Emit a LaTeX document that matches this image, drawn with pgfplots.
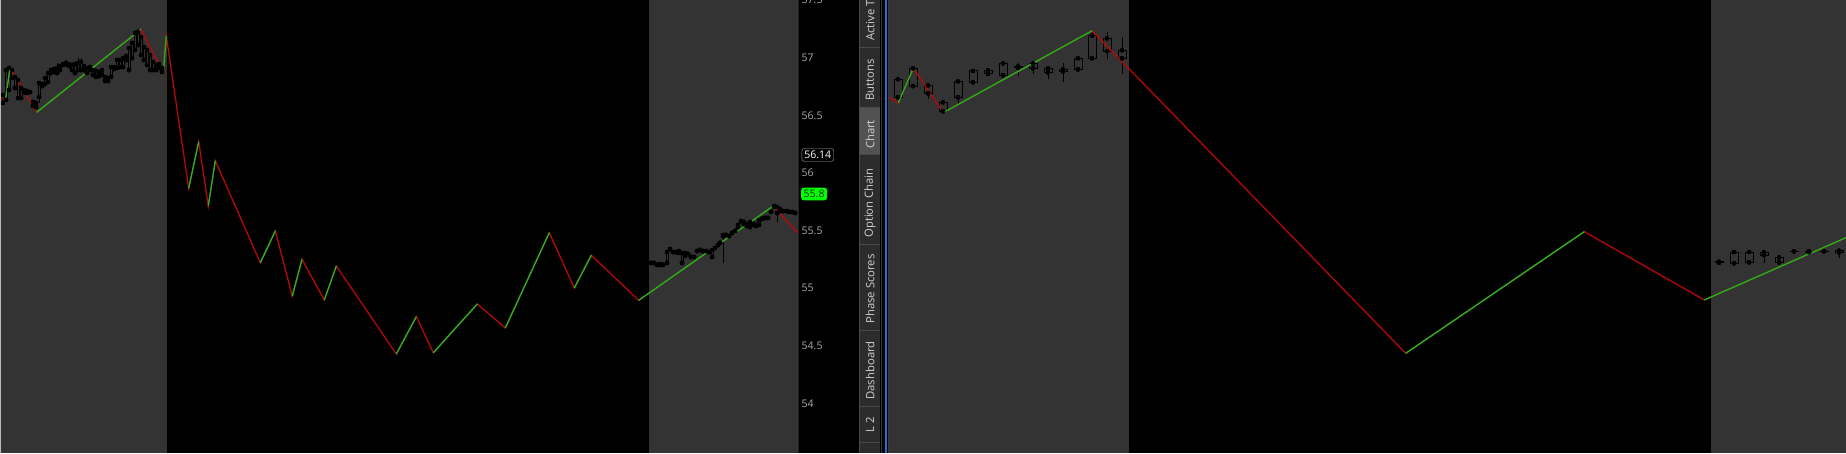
\documentclass[border=0pt]{standalone}
\usepackage{fontspec}
\setmainfont{Open Sans}
\usepackage{pgfplots}
\usepackage{pgfplotstable}
\pgfplotsset{compat=1.18}
\definecolor{sess}{RGB}{51,51,51}
\definecolor{zzg}{RGB}{28,185,28}
\definecolor{zzr}{RGB}{182,8,8}
\definecolor{ticktxt}{RGB}{172,172,172}
\definecolor{tabbg}{RGB}{44,44,44}
\definecolor{tabsel}{RGB}{82,82,82}
\definecolor{tabsep}{RGB}{72,72,72}
\definecolor{tabtxt}{RGB}{210,210,210}
\definecolor{bluel}{RGB}{45,105,215}

% candles: x  top  bottom  high  low
\pgfplotstableread{
x t b h l
3 56.676 56.607 56.676 56.589
6 56.893 56.633 56.893 56.633
9 56.911 56.720 56.911 56.720
12 56.893 56.824 56.893 56.824
15 56.833 56.737 56.833 56.737
18 56.807 56.650 56.807 56.650
21 56.737 56.650 56.737 56.650
24 56.720 56.702 56.737 56.676
27 56.711 56.694 56.711 56.694
30 56.702 56.702 56.702 56.702
33 56.616 56.581 56.616 56.581
36 56.607 56.572 56.633 56.572
39 56.780 56.659 56.780 56.607
42 56.772 56.754 56.772 56.754
45 56.824 56.772 56.824 56.772
48 56.867 56.789 56.867 56.789
51 56.893 56.867 56.893 56.867
54 56.902 56.876 56.902 56.876
57 56.911 56.867 56.954 56.867
60 56.928 56.893 56.928 56.893
63 56.945 56.937 56.945 56.937
66 56.954 56.945 56.980 56.945
69 56.945 56.928 56.945 56.928
72 56.937 56.893 56.937 56.893
75 56.945 56.867 56.945 56.867
78 56.954 56.893 56.997 56.893
81 56.963 56.893 56.997 56.893
84 56.928 56.893 56.928 56.893
87 56.911 56.867 56.911 56.867
90 56.919 56.893 56.919 56.893
93 56.893 56.850 56.893 56.850
96 56.885 56.833 56.885 56.833
99 56.876 56.841 56.876 56.841
102 56.893 56.850 56.893 56.850
105 56.833 56.798 56.833 56.798
108 56.824 56.798 56.824 56.798
111 56.919 56.833 56.919 56.833
114 56.919 56.902 56.919 56.902
117 56.980 56.911 56.980 56.911
120 56.980 56.919 56.980 56.919
123 56.997 56.919 56.997 56.919
126 57.015 56.980 57.015 56.980
129 57.084 56.893 57.084 56.876
132 57.128 56.997 57.128 56.997
135 57.214 57.067 57.240 57.067
138 57.223 57.110 57.249 57.110
141 57.180 57.023 57.180 57.023
144 57.093 56.980 57.093 56.980
147 57.067 56.937 57.067 56.937
150 57.023 56.893 57.023 56.893
153 56.963 56.893 56.963 56.893
156 56.937 56.893 56.937 56.893
159 56.945 56.911 56.945 56.911
162 56.911 56.876 56.911 56.876
}\candlesLA

\pgfplotstableread{
x t b h l
651 55.218 55.218 55.218 55.218
654 55.218 55.218 55.218 55.218
657 55.201 55.201 55.201 55.201
660 55.209 55.201 55.209 55.201
663 55.201 55.201 55.201 55.201
667 55.313 55.218 55.313 55.218
670 55.339 55.339 55.339 55.339
673 55.313 55.313 55.313 55.313
676 55.313 55.313 55.313 55.313
679 55.322 55.305 55.322 55.305
682 55.305 55.218 55.305 55.218
685 55.305 55.279 55.305 55.279
688 55.296 55.296 55.296 55.296
691 55.270 55.270 55.270 55.270
694 55.270 55.270 55.270 55.270
697 55.322 55.322 55.322 55.322
700 55.331 55.331 55.331 55.331
703 55.322 55.322 55.322 55.322
706 55.322 55.322 55.322 55.322
709 55.313 55.313 55.313 55.313
712 55.331 55.270 55.331 55.270
715 55.348 55.348 55.348 55.348
718 55.374 55.374 55.374 55.374
720 55.392 55.392 55.392 55.392
723 55.461 55.452 55.461 55.218
726 55.461 55.461 55.461 55.461
729 55.452 55.452 55.452 55.452
732 55.478 55.478 55.478 55.478
735 55.496 55.496 55.496 55.496
738 55.548 55.530 55.548 55.530
741 55.582 55.582 55.582 55.582
744 55.574 55.556 55.574 55.556
747 55.556 55.539 55.556 55.539
750 55.574 55.530 55.574 55.530
753 55.556 55.556 55.556 55.556
756 55.556 55.539 55.556 55.539
759 55.591 55.548 55.591 55.548
762 55.600 55.600 55.600 55.600
765 55.609 55.609 55.609 55.609
768 55.609 55.609 55.609 55.609
771 55.661 55.661 55.661 55.661
774 55.713 55.704 55.721 55.704
777 55.704 55.652 55.704 55.574
780 55.687 55.669 55.687 55.669
783 55.669 55.669 55.669 55.669
786 55.669 55.669 55.669 55.669
789 55.661 55.661 55.661 55.661
792 55.661 55.661 55.661 55.661
795 55.652 55.652 55.652 55.652
}\candlesLB

\pgfplotstableread{
x t b h l
898 56.813 56.656 56.813 56.656
913 56.908 56.754 56.908 56.754
928 56.760 56.691 56.760 56.639
943 56.613 56.535 56.613 56.535
958 56.795 56.656 56.795 56.604
973 56.885 56.787 56.885 56.787
988 56.891 56.859 56.891 56.859
1003 56.951 56.847 56.951 56.847
1018 56.925 56.913 56.951 56.844
1033 56.951 56.908 56.974 56.859
1048 56.908 56.873 56.908 56.818
1063 56.899 56.882 56.951 56.792
1078 56.995 56.899 56.995 56.899
1092 57.191 56.995 57.234 56.995
1107 57.168 57.058 57.223 56.991
1122 57.064 56.995 57.182 56.856
1719 55.229 55.221 55.229 55.198
1734 55.313 55.215 55.313 55.215
1749 55.313 55.224 55.313 55.224
1764 55.311 55.287 55.311 55.221
1779 55.267 55.224 55.267 55.224
1794 55.320 55.320 55.320 55.320
1809 55.320 55.313 55.320 55.313
1824 55.320 55.320 55.320 55.320
1839 55.325 55.311 55.325 55.264
}\candlesR

% zigzag vertices
\pgfplotstableread{
x y
1.7 56.685
5 56.604
10 56.913
36.7 56.526
141 57.247
163.3 56.870
166.3 57.188
188.7 55.866
198.7 56.271
208.3 55.713
215.3 56.106
260.3 55.220
275.3 55.496
292.3 54.931
302 55.250
324.3 54.897
336.3 55.192
396.3 54.428
416.3 54.752
433.3 54.439
477.3 54.862
505.3 54.654
549.3 55.481
574.3 55.001
591.3 55.285
638.7 54.894
773.3 55.713
797.3 55.481
}\zzL

\pgfplotstableread{
x y
5 56.604
10 56.913
10 nan
36.7 56.526
141 57.247
141 nan
163.3 56.870
166.3 57.188
166.3 nan
188.7 55.866
198.7 56.271
198.7 nan
208.3 55.713
215.3 56.106
215.3 nan
260.3 55.220
275.3 55.496
275.3 nan
292.3 54.931
302 55.250
302 nan
324.3 54.897
336.3 55.192
336.3 nan
396.3 54.428
416.3 54.752
416.3 nan
433.3 54.439
477.3 54.862
477.3 nan
505.3 54.654
549.3 55.481
549.3 nan
574.3 55.001
591.3 55.285
591.3 nan
638.7 54.894
773.3 55.713
}\zzLg

\pgfplotstableread{
x y
889.3 56.653
898.3 56.609
913.3 56.908
943.3 56.523
1092 57.234
1405.7 54.434
1584.3 55.490
1704.3 54.897
1846 55.438
}\zzR

\pgfplotstableread{
x y
898.3 56.609
913.3 56.908
913.3 nan
943.3 56.523
1092 57.234
1092 nan
1405.7 54.434
1584.3 55.490
1584.3 nan
1704.3 54.897
1846 55.438
}\zzRg

\pgfplotsset{
  panel/.style={x=1pt, y=115.2pt, ymin=53.5686, ymax=57.5009,
    axis line style={draw=none}, tick style={draw=none},
    xtick=\empty, clip=true, unbounded coords=jump},
  cbar/.style={only marks, mark=none, forget plot},
}

% #1 table, #2 half body width, #3 side offset, #4 line width
\newcommand\candles[4]{%
  \addplot[cbar, error bars/.cd, y dir=plus, y explicit, error mark=none,
    error bar style={black, line width=#4}]
    table[x=x, y=t, y error expr=\thisrow{h}-\thisrow{t}] {#1};
  \addplot[cbar, error bars/.cd, y dir=minus, y explicit, error mark=none,
    error bar style={black, line width=#4}]
    table[x=x, y=b, y error expr=\thisrow{b}-\thisrow{l}] {#1};
  \addplot[cbar, error bars/.cd, y dir=plus, y explicit, error mark=none,
    error bar style={black, line width=#4, xshift=-#3pt}]
    table[x=x, y=b, y error expr=\thisrow{t}-\thisrow{b}] {#1};
  \addplot[cbar, error bars/.cd, y dir=plus, y explicit, error mark=none,
    error bar style={black, line width=#4, xshift=#3pt}]
    table[x=x, y=b, y error expr=\thisrow{t}-\thisrow{b}] {#1};
  \addplot[cbar, error bars/.cd, x dir=both, x fixed=#2, error mark=none,
    error bar style={black, line width=#4}]
    table[x=x, y=t] {#1};
  \addplot[cbar, error bars/.cd, x dir=both, x fixed=#2, error mark=none,
    error bar style={black, line width=#4}]
    table[x=x, y=b] {#1};
}

\begin{document}
\begin{tikzpicture}
\path[use as bounding box, clip] (0,0) rectangle (1846pt,453pt);
\fill[black] (0,0) rectangle (1846pt,453pt);

% ---------- left panel ----------
\begin{axis}[panel, at={(0,0)}, anchor=south west, xmin=0, xmax=798.5,
  axis background/.style={fill=black},
  ytick={54,54.5,55,55.5,56,56.5,57,57.5}, yticklabel pos=right,
  /pgf/number format/assume math mode=true,
  yticklabel style={anchor=west, inner sep=0pt, xshift=3pt, text=ticktxt,
    font=\fontsize{10.5}{12}\selectfont}]
  \addplot[fill=sess, draw=none, forget plot] coordinates {(0,57.6) (167,57.6)} \closedcycle;
  \addplot[fill=sess, draw=none, forget plot] coordinates {(649,57.6) (798.5,57.6)} \closedcycle;
  \candles{\candlesLA}{1.4}{1}{0.75pt}
  \candles{\candlesLB}{1.4}{1}{0.75pt}
  \addplot[zzr, line width=1.3pt, forget plot] table[x=x, y=y] {\zzL};
  \addplot[zzg, line width=1.3pt, forget plot] table[x=x, y=y] {\zzLg};
\end{axis}

% ---------- right panel ----------
\begin{axis}[panel, at={(889pt,0)}, anchor=south west, xmin=889, xmax=1846,
  axis background/.style={fill=black}, ytick=\empty]
  \addplot[fill=sess, draw=none, forget plot] coordinates {(889,57.6) (1129,57.6)} \closedcycle;
  \addplot[fill=sess, draw=none, forget plot] coordinates {(1711,57.6) (1846,57.6)} \closedcycle;
  \candles{\candlesR}{4.5}{4}{1pt}
  \addplot[zzr, line width=1.3pt, forget plot] table[x=x, y=y] {\zzR};
  \addplot[zzg, line width=1.3pt, forget plot] table[x=x, y=y] {\zzRg};
\end{axis}

% left border line
\draw[gray!55, line width=1pt] (0.5pt,0) -- (0.5pt,453pt);

% price flags
\node[draw=gray!70, fill=black, rounded corners=2.5pt, text=white, anchor=west,
  inner xsep=2.5pt, inner ysep=0pt, minimum height=13pt,
  font=\fontsize{10.5}{12}\selectfont] at (801.7pt,298pt) {56.14};
\node[fill=green, rounded corners=2.5pt, text=black!85!green, anchor=west,
  inner xsep=2.5pt, inner ysep=0pt, minimum height=12.6pt,
  font=\fontsize{10.5}{12}\selectfont] at (801pt,259pt) {55.8};

% side tabs
\fill[tabbg] (859pt,0) rectangle (880pt,453pt);
\fill[tabsel] (859pt,298pt) rectangle (880pt,345pt);
\draw[tabsep, line width=1pt] (859.5pt,0) -- (859.5pt,453pt);
\foreach \yy in {405,345,298,209,123,47,11}
  \draw[tabsep, line width=1pt] (859pt,\yy pt) -- (880pt,\yy pt);
\begin{scope}[every node/.style={rotate=90, text=tabtxt, inner sep=0pt,
    font=\fontsize{11.3}{13}\selectfont}]
  \node[anchor=west] at (870pt,412pt) {Active Trader};
  \node at (870pt,373pt) {Buttons};
  \node at (870pt,318.5pt) {Chart};
  \node at (870pt,250pt) {Option Chain};
  \node at (870pt,164pt) {Phase Scores};
  \node at (870pt,82.5pt) {Dashboard};
  \node at (870pt,28pt) {L 2};
\end{scope}
\draw[gray!40!black, line width=1pt] (881pt,0) -- (881pt,453pt);
\draw[bluel, line width=1.3pt] (886pt,0) -- (886pt,453pt);
\draw[gray!45!black, line width=1pt] (888.3pt,0) -- (888.3pt,453pt);
\end{tikzpicture}
\end{document}
